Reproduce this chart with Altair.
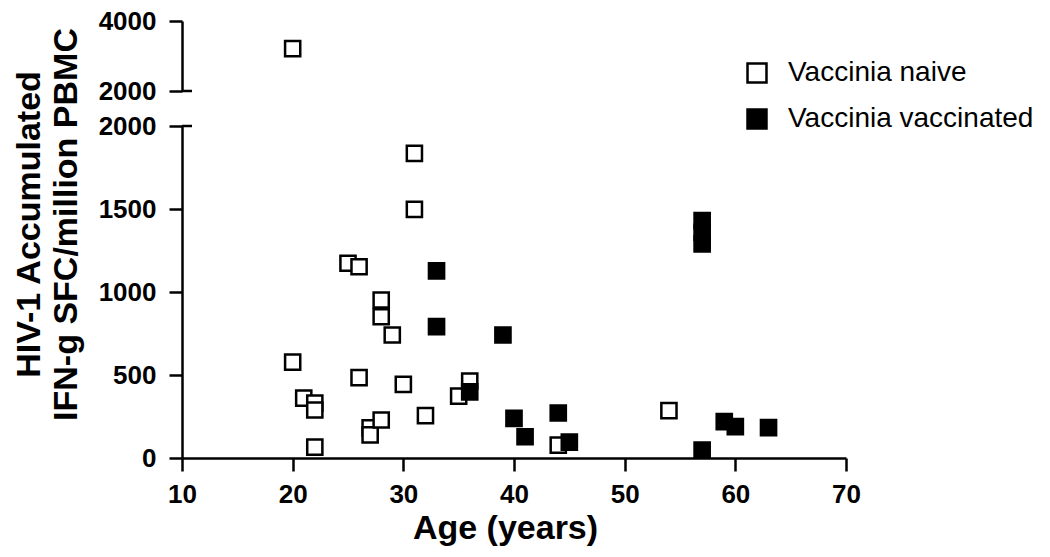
import altair as alt
import pandas as pd

# ---- data ----
naive_age = [20, 20, 21, 22, 22, 22, 25, 26, 26, 27, 27, 28, 28, 28, 29, 30, 31, 31, 32, 35, 36, 44, 54]
naive_val = [3210, 578, 361, 331, 289, 66, 1173, 1152, 484, 181, 139, 952, 851, 229, 741, 444, 1835, 1498,
             255, 373, 464, 78, 285]
vacc_age = [33, 33, 36, 39, 40, 41, 44, 45, 57, 57, 57, 57, 59, 60, 63]
vacc_val = [1127, 791, 398, 741, 239, 128, 271, 96, 1430, 1360, 1290, 48, 219, 189, 183]

groups = ["Vaccinia naive", "Vaccinia vaccinated"]
group_fill = ["white", "black"]

x_ticks = [10, 20, 30, 40, 50, 60, 70]
y_low_ticks = [0, 500, 1000, 1500, 2000]
y_high_ticks = [2000, 3000, 4000]
y_title = ["HIV-1 Accumulated", "IFN-g SFC/million PBMC"]
x_title = "Age (years)"

rows = []
for a, v in zip(naive_age, naive_val):
    rows.append({"age": a, "value": v, "group": groups[0]})
for a, v in zip(vacc_age, vacc_val):
    rows.append({"age": a, "value": v, "group": groups[1]})
df = pd.DataFrame(rows)
df_high = df[df["value"] >= 2000]
df_low = df[df["value"] <= 2000]

FONT = "Liberation Sans"
axis_style = dict(
    domainColor="black", domainWidth=2.5, tickColor="black", tickWidth=2.5, tickSize=13,
    labelFont=FONT, labelFontWeight="bold", labelFontSize=26, labelColor="black",
    grid=False, format="d", labelFlush=False,
)

legend = alt.Legend(
    title=None, orient="none", legendX=561, legendY=38, padding=0,
    symbolType="square", symbolSize=360, symbolStrokeColor="black", symbolStrokeWidth=2.5,
    labelFont=FONT, labelFontSize=28, labelColor="black", labelOffset=17, rowPadding=16,
    labelLimit=0,
)
fill_enc = alt.Fill("group:N", scale=alt.Scale(domain=groups, range=group_fill), legend=legend)

W = 664

# ---- top (broken) panel ----
top_pts = alt.Chart(df_high).mark_square(size=230, stroke="black", strokeWidth=2.5, opacity=1).encode(
    x=alt.X("age:Q", scale=alt.Scale(domain=[10, 70], nice=False), axis=None),
    y=alt.Y("value:Q", scale=alt.Scale(domain=[2000, 4000], nice=False, zero=False),
            axis=alt.Axis(values=y_high_ticks, title=None, labelPadding=13, **axis_style)),
    fill=fill_enc,
)
top_break = alt.Chart(pd.DataFrame({"v": [2000]})).mark_rule(color="black", strokeWidth=2.5).encode(
    y=alt.Y("v:Q", scale=alt.Scale(domain=[2000, 4000], nice=False, zero=False)),
    x=alt.value(0), x2=alt.value(10),
)
top = alt.layer(top_pts, top_break).properties(width=W, height=70)

# ---- bottom panel ----
low_pts = alt.Chart(df_low).mark_square(size=230, stroke="black", strokeWidth=2.5, opacity=1).encode(
    x=alt.X("age:Q", scale=alt.Scale(domain=[10, 70], nice=False),
            axis=alt.Axis(values=x_ticks, title=x_title, labelPadding=10, titlePadding=4, titleX=323,
                          titleFont=FONT, titleFontSize=34, titleFontWeight="bold", titleColor="black",
                          **axis_style)),
    y=alt.Y("value:Q", scale=alt.Scale(domain=[0, 2000], nice=False),
            axis=alt.Axis(values=y_low_ticks, title=y_title, labelPadding=13,
                          titleFont=FONT, titleFontSize=34, titleFontWeight="bold", titleColor="black",
                          titleLineHeight=37, titleAngle=-90, titleX=-153, titleY=98,
                          titleAlign="center", titleBaseline="middle",
                          **axis_style)),
    fill=fill_enc,
)
low_break = alt.Chart(pd.DataFrame({"v": [2000]})).mark_rule(color="black", strokeWidth=2.5).encode(
    y=alt.Y("v:Q", scale=alt.Scale(domain=[0, 2000], nice=False)),
    x=alt.value(0), x2=alt.value(10),
)
bottom = alt.layer(low_pts, low_break).properties(width=W, height=332)

chart = alt.vconcat(top, bottom, spacing=35, bounds="flush").configure_view(stroke=None).properties(
    autosize=alt.AutoSizeParams(type="none"),
    padding={"left": 174, "top": 13, "right": 196, "bottom": 528},
)

chart.save("out.html", embed_options={"renderer": "svg", "actions": False})
